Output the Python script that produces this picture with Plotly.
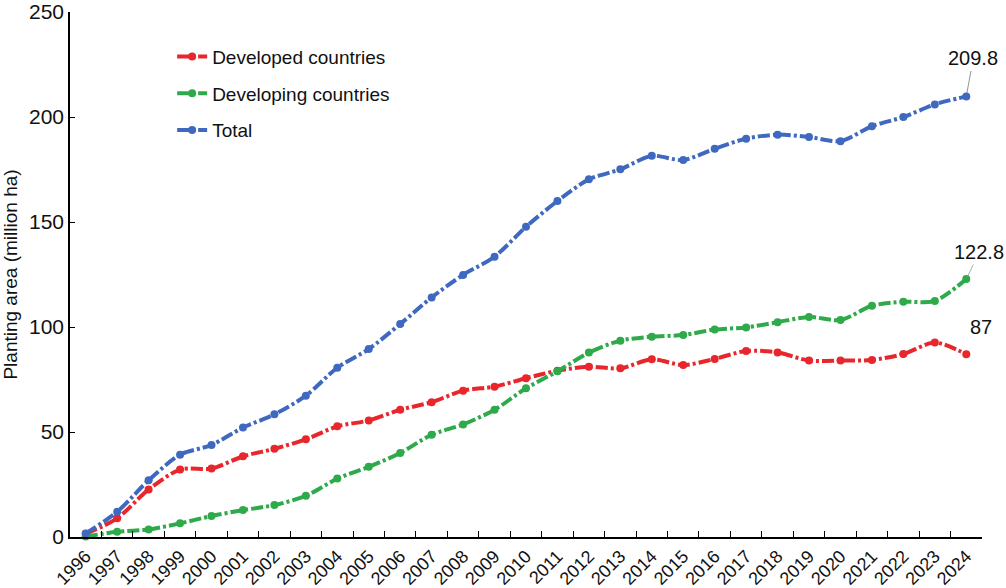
import plotly.graph_objects as go

years = [str(y) for y in range(1996, 2025)]
developed = [1.5, 8.9, 22.6, 32.1, 32.6, 38.4, 42.0, 46.5, 52.7, 55.5, 60.6, 64.2, 69.7, 71.6,
             75.6, 79.2, 81.1, 80.3, 84.6, 81.9, 84.8, 88.6, 87.9, 84.0, 84.0, 84.3, 87.1, 92.6, 87.0]
developing = [0.2, 2.5, 3.6, 6.5, 10.0, 12.8, 15.2, 19.6, 27.8, 33.4, 40.0, 48.7, 53.6, 60.6,
              70.8, 78.9, 87.8, 93.5, 95.4, 96.2, 98.8, 99.8, 102.3, 104.8, 103.3, 110.1, 112.0, 112.4, 122.8]
total = [1.7, 12.0, 27.0, 39.2, 43.8, 52.1, 58.4, 67.3, 80.6, 89.5, 101.4, 114.1, 124.8, 133.5,
         147.7, 160.0, 170.3, 175.1, 181.5, 179.5, 184.9, 189.7, 191.6, 190.5, 188.5, 195.6, 200.0, 206.0, 209.8]

series = [
    ("Developed countries", developed, "#E8262B"),
    ("Developing countries", developing, "#2EAA4B"),
    ("Total", total, "#3F69C0"),
]

fig = go.Figure()
for i, (name, vals, col) in enumerate(series):
    fig.add_trace(go.Scatter(
        x=years, y=vals, name=name, mode="lines+markers",
        line=dict(color=col, width=4, dash="12px,3px,3px,3px", shape="spline", smoothing=0.8),
        marker=dict(color=col, size=8, symbol="circle"),
        cliponaxis=False, legendgroup=f"g{i}",
    ))

last = len(years) - 1
ann_font = dict(family="Arial, Liberation Sans, sans-serif", size=20, color="#111")
fig.add_annotation(x=last, y=total[-1], xref="x", yref="y", text="209.8", showarrow=True,
                   arrowhead=0, arrowwidth=0.8, arrowcolor="#777", ax=7, ay=-38, standoff=3,
                   font=ann_font)
fig.add_annotation(x=last, y=developing[-1], xref="x", yref="y", text="122.8", showarrow=True,
                   arrowhead=0, arrowwidth=0.8, arrowcolor="#999", ax=13, ay=-27, standoff=3,
                   font=ann_font)
fig.add_annotation(x=last, y=developed[-1], xref="x", yref="y", text="87", showarrow=False,
                   xshift=15, yshift=27, font=ann_font)

fig.update_layout(
    width=1006, height=588, autosize=False,
    margin=dict(l=70, r=24, t=12, b=51),
    plot_bgcolor="white", paper_bgcolor="white",
    font=dict(family="Arial, Liberation Sans, sans-serif", color="#111"),
    showlegend=True,
    legend=dict(x=0.112, y=0.951, xanchor="left", yanchor="top", bgcolor="rgba(0,0,0,0)",
                font=dict(size=19, color="#111"), tracegroupgap=9, itemwidth=30),
)
fig.update_xaxes(
    type="category", range=[-0.5, 28.5], tickson="boundaries", ticks="inside", ticklen=6,
    tickangle=-45, showline=True, linecolor="black", linewidth=1.5, showgrid=False,
    tickfont=dict(size=18, color="#111"), tickcolor="black", automargin=False,
)
fig.update_yaxes(
    range=[0, 250], dtick=50, ticks="inside", ticklen=5, tickcolor="black",
    showline=True, linecolor="black", linewidth=1.5, showgrid=False, zeroline=False,
    tickfont=dict(size=21, color="#111"), automargin=False,
    title=dict(text="Planting area (million ha)", font=dict(size=19, color="#111"), standoff=8),
)

fig.write_html("out.html")
